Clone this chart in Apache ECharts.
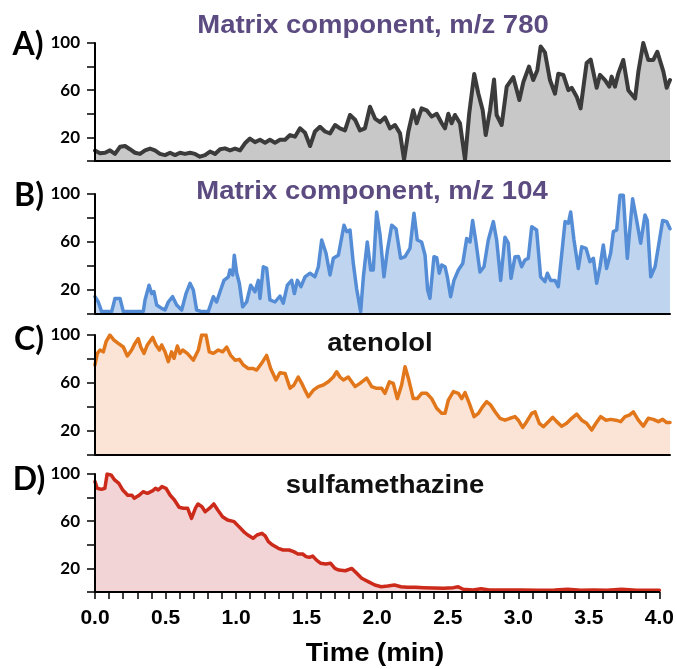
<!DOCTYPE html>
<html><head><meta charset="utf-8">
<script src="https://cdn.jsdelivr.net/npm/echarts@6/dist/echarts.min.js"></script>
<style>html,body{margin:0;padding:0;background:#fff}#c{width:677px;height:669px}</style>
</head><body><div id="c"></div><script>
// ---- Data (time in min, relative intensity %) ----
const aTime=[0.000,0.035,0.070,0.104,0.139,0.174,0.209,0.243,0.278,0.313,0.348,0.383,0.417,0.452,0.487,0.522,0.557,0.591,0.626,0.661,0.696,0.730,0.765,0.800,0.835,0.870,0.904,0.939,0.974,1.009,1.043,1.078,1.113,1.148,1.183,1.217,1.252,1.287,1.322,1.357,1.391,1.426,1.461,1.496,1.530,1.565,1.600,1.635,1.670,1.704,1.739,1.774,1.809,1.843,1.878,1.913,1.948,1.983,2.017,2.052,2.087,2.122,2.150,2.180,2.214,2.238,2.272,2.307,2.342,2.377,2.412,2.435,2.458,2.481,2.504,2.539,2.574,2.603,2.638,2.667,2.697,2.718,2.748,2.776,2.794,2.829,2.864,2.910,2.952,2.980,3.019,3.049,3.077,3.100,3.130,3.165,3.200,3.223,3.258,3.293,3.316,3.351,3.378,3.420,3.448,3.490,3.513,3.548,3.578,3.594,3.617,3.640,3.675,3.710,3.757,3.780,3.814,3.849,3.884,3.912,3.954,3.977,4.000];
const aVal=[8.8,6.5,7,9,6,12,12.7,10,7,6,9,10.5,9,6,5,7,5,7,6,7,6,3.7,5,8,6,10,10.7,9,10.5,9,15,19,16,18,15.5,18,15.5,18,18,22,20.6,27.7,24,12.7,25,29,25,23.4,30.5,27.7,26,39,35,26,27.7,46,36,33,37,27.7,30.5,23.4,1,25,43,32,44.6,43,37.6,40,32,27.7,40,32,39,32,1,40,73.7,57,43,22,43,69,39,30.5,63,71,51.7,67,80,68.6,77,97,92,68.6,57,74,73,60,62,54.5,44.6,83,86,62,73,68.6,63,71.5,63,74,85.6,60,53,75.7,100,85.6,85.6,92.6,75.7,62,68.6];

const bTime=[0,0.023,0.046,0.081,0.116,0.139,0.174,0.197,0.243,0.290,0.336,0.348,0.376,0.394,0.410,0.429,0.464,0.487,0.510,0.540,0.568,0.603,0.633,0.661,0.684,0.707,0.742,0.788,0.823,0.846,0.874,0.897,0.928,0.939,0.958,0.969,0.986,1.004,1.027,1.055,1.083,1.113,1.136,1.148,1.171,1.194,1.217,1.252,1.287,1.310,1.338,1.368,1.387,1.408,1.433,1.461,1.496,1.530,1.554,1.577,1.607,1.635,1.658,1.693,1.732,1.751,1.774,1.797,1.820,1.848,1.867,1.894,1.918,1.936,1.959,1.983,2.010,2.034,2.064,2.094,2.126,2.157,2.191,2.219,2.242,2.272,2.296,2.314,2.330,2.358,2.377,2.395,2.412,2.435,2.451,2.474,2.497,2.528,2.558,2.586,2.609,2.627,2.650,2.678,2.706,2.736,2.771,2.794,2.822,2.852,2.875,2.894,2.922,2.945,2.968,2.991,3.014,3.038,3.072,3.100,3.130,3.147,3.170,3.200,3.223,3.246,3.270,3.293,3.309,3.332,3.362,3.386,3.416,3.443,3.467,3.490,3.513,3.536,3.559,3.587,3.606,3.629,3.652,3.675,3.703,3.717,3.740,3.768,3.796,3.826,3.842,3.866,3.896,3.919,3.949,3.977,4.000];
const bVal=[14.4,10,2,2,2,13,13,2,2,2,2,11.7,24,17,18.6,7.5,4.7,3.3,10,14.4,7.5,3.3,17,25.6,20,3.3,2,2,14.4,10,20,28,31,36.7,32.5,49,34,25.6,6,10,24,18.6,28,13,39.4,38,11.7,10,15,9,24,28,17,28,22.8,31,34,31,39.4,61.7,50.6,32.5,46.4,49,74,68.6,70,42,21,2,31,60,36.7,36.7,85,66,31,53,74,71,46.4,47.8,54.7,84,61.7,60,49,20,13,47.8,47,34,40.8,39.4,31,14.4,28,36.7,42,63,60,78,60,35,39.4,61.7,77,61.7,28,64,59,29.7,47.8,48,39.4,45,46.4,72.8,70,31,27,34,28,28,22.8,49,77,75.6,85,61.7,38,56,54.7,43.6,46.4,25.6,39.4,57.5,38,50.6,68.6,70,99,99,46.4,66,96,78,59,82.5,78,31,39.4,56,78,77,71];

const cTime=[0,0.016,0.035,0.058,0.077,0.104,0.132,0.162,0.197,0.225,0.255,0.278,0.301,0.318,0.341,0.364,0.401,0.424,0.448,0.464,0.487,0.510,0.533,0.550,0.573,0.591,0.610,0.642,0.684,0.719,0.742,0.772,0.795,0.823,0.858,0.888,0.916,0.944,0.974,1.004,1.032,1.067,1.101,1.125,1.159,1.194,1.222,1.259,1.287,1.322,1.357,1.384,1.414,1.438,1.461,1.484,1.519,1.554,1.588,1.623,1.658,1.681,1.704,1.728,1.762,1.809,1.843,1.890,1.925,1.959,1.994,2.017,2.048,2.075,2.103,2.133,2.157,2.180,2.214,2.242,2.272,2.307,2.342,2.377,2.412,2.435,2.458,2.493,2.528,2.551,2.574,2.604,2.637,2.667,2.697,2.725,2.752,2.783,2.817,2.852,2.887,2.922,2.945,2.975,3.003,3.038,3.061,3.091,3.119,3.154,3.184,3.212,3.246,3.281,3.316,3.351,3.386,3.420,3.455,3.485,3.518,3.555,3.587,3.624,3.657,3.687,3.717,3.745,3.780,3.814,3.849,3.884,3.919,3.949,3.977,4.000];
const cVal=[75,84.7,87.5,86,94.4,100,95.8,93,90,82.5,87.5,93,97,90,84.7,91.7,98,91.7,87.5,91.7,86,77.8,86,80.6,90.8,84.7,87.5,84.7,79,87.5,100,100,86,84.7,87.5,86,90,83,79,79.7,75,72,72,70.8,76.4,83,72,62.5,68.6,68,55.6,58.3,65,59.7,54,48.6,54,57,58.3,61,65,69.4,65,62.5,65,57,59.7,64,57,55.6,55.6,51.4,61,59.7,47,58.3,73.6,64,47,47,51.4,51.4,47,39,34.7,34.7,45.8,52.8,51.4,47,52,43,32,34.7,40.3,44.4,41.7,36,30.6,29,30.6,32,29,23,27.8,34.7,36,26.4,23.6,27.8,31.4,27.8,24,26.4,30.6,34,29,26.4,20.8,26.4,32,29,29.7,29,27.8,32,33.3,36,29,24,30.6,29.7,27.8,29.7,27,27];

const dTime=[0,0.016,0.046,0.070,0.086,0.116,0.139,0.169,0.197,0.232,0.262,0.278,0.313,0.341,0.371,0.410,0.429,0.448,0.475,0.503,0.533,0.563,0.596,0.626,0.656,0.684,0.712,0.730,0.758,0.781,0.812,0.842,0.870,0.904,0.939,0.986,1.020,1.055,1.083,1.120,1.148,1.183,1.206,1.229,1.259,1.299,1.333,1.375,1.408,1.438,1.472,1.496,1.519,1.542,1.570,1.600,1.635,1.670,1.700,1.728,1.774,1.820,1.855,1.890,1.936,1.983,2.029,2.075,2.122,2.168,2.214,2.272,2.330,2.400,2.470,2.539,2.574,2.609,2.678,2.736,2.794,2.910,3.026,3.142,3.258,3.351,3.443,3.536,3.629,3.733,3.838,3.954,4.000];
const dVal=[93.5,87.9,87,87.9,100,99,95,92,86.4,82,82,79.4,82,85,83.6,85.9,87.9,86.4,89.3,87.9,82,78,71.8,71,71,62.4,71,74.6,72.3,68,71,74.6,69.5,63.8,61,59.6,55.4,51,48.3,45.5,48.3,49.7,47.5,42.7,39.8,37,35.6,35.6,34.2,32.2,32.2,30,29.4,30.5,27,24.3,23.7,24.3,20,18.6,18,20,15.8,11.6,8.8,5.9,4.5,5,5.9,4.5,4,4,3.7,3.4,3.1,3.7,4.5,2.3,1.7,2.8,1.7,1.7,1.7,1.4,1.7,2.3,1.4,1.7,1.4,2.3,1.4,1.4,1.4];

const panelLetters=['A)','B)','C)','D)'];
const panelTitles=['Matrix component, m/z 780','Matrix component, m/z 104','atenolol','sulfamethazine'];
const yTickLabels=['20','60','100'];
const xTickLabels=['0.0','0.5','1.0','1.5','2.0','2.5','3.0','3.5','4.0'];
const xAxisTitle='Time (min)';

// ---- Styling / layout ----
const times=[aTime,bTime,cTime,dTime];
const vals=[aVal,bVal,cVal,dVal];
const lineColors=['#3b3b3b','#548dd6','#e2761b','#cc2a1a'];
const lineWidths=[4,3.5,3.5,3.5];
const areaColors=['#c8c8c8','#bfd5ef','#fbe4d5','#f3d4d6'];
const titleColors=['#5b4b80','#5b4b80','#111111','#111111'];
const gridBoxes=[{top:43,height:118},{top:194,height:120},{top:335,height:120},{top:474,height:118}];
const titlePos=[[373,26],[372,192],[380,344],[385,486]];
const letterPos=[[28,45],[29,196],[29,340],[29,480]];

const grid=[],xAxis=[],yAxis=[],series=[],graphic=[];
for(let i=0;i<4;i++){
  grid.push({left:95,width:575,top:gridBoxes[i].top,height:gridBoxes[i].height});
  const isLast=i===3;
  xAxis.push({type:'value',gridIndex:i,min:0,max:4,interval:0.1,z:5,
    axisLine:{show:true,onZero:false,lineStyle:{color:'#000',width:2}},
    axisTick:{show:isLast,length:7,lineStyle:{color:'#000',width:1.5}},
    splitLine:{show:false},
    axisLabel:{show:isLast,margin:16,color:'#000',fontFamily:'"Liberation Sans", Arial, sans-serif',fontWeight:'bold',fontSize:21,
      formatter:v=>{const s=(Math.round(v*10)/10).toFixed(1);return xTickLabels.includes(s)?s:'';}}
  });
  yAxis.push({type:'value',gridIndex:i,min:0,max:100,interval:20,z:5,
    axisLine:{show:true,lineStyle:{color:'#000',width:2}},
    axisTick:{show:true,length:8,lineStyle:{color:'#000',width:1.5}},
    splitLine:{show:false},
    axisLabel:{margin:15,color:'#000',fontFamily:'Lato, sans-serif',fontWeight:'bold',fontSize:17,
      formatter:v=>yTickLabels.includes(String(v))?String(v):''}
  });
  series.push({type:'line',xAxisIndex:i,yAxisIndex:i,showSymbol:false,symbol:'none',
    data:times[i].map((t,j)=>[t,vals[i][j]]),
    lineStyle:{color:lineColors[i],width:lineWidths[i],join:'round',cap:'round'},
    areaStyle:{color:areaColors[i],opacity:1},
    z:2,animation:false});
  graphic.push({type:'text',x:titlePos[i][0],y:titlePos[i][1],scaleX:1.1,z:10,
    style:{text:panelTitles[i],fill:titleColors[i],font:'bold 25px "Liberation Sans", Arial, sans-serif',align:'center',verticalAlign:'middle'}});
  graphic.push({type:'text',x:letterPos[i][0],y:letterPos[i][1],z:10,
    style:{text:panelLetters[i],fill:'#000',font:'bold 32px Lato, sans-serif',align:'center',verticalAlign:'middle'}});
}
graphic.push({type:'text',x:375,y:654,scaleX:1.1,z:10,
  style:{text:xAxisTitle,fill:'#000',font:'bold 25px "Liberation Sans", Arial, sans-serif',align:'center',verticalAlign:'middle'}});

const chart=echarts.init(document.getElementById('c'),null,{renderer:'canvas'});
chart.setOption({animation:false,backgroundColor:'#fff',grid,xAxis,yAxis,series,graphic});
</script></body></html>
